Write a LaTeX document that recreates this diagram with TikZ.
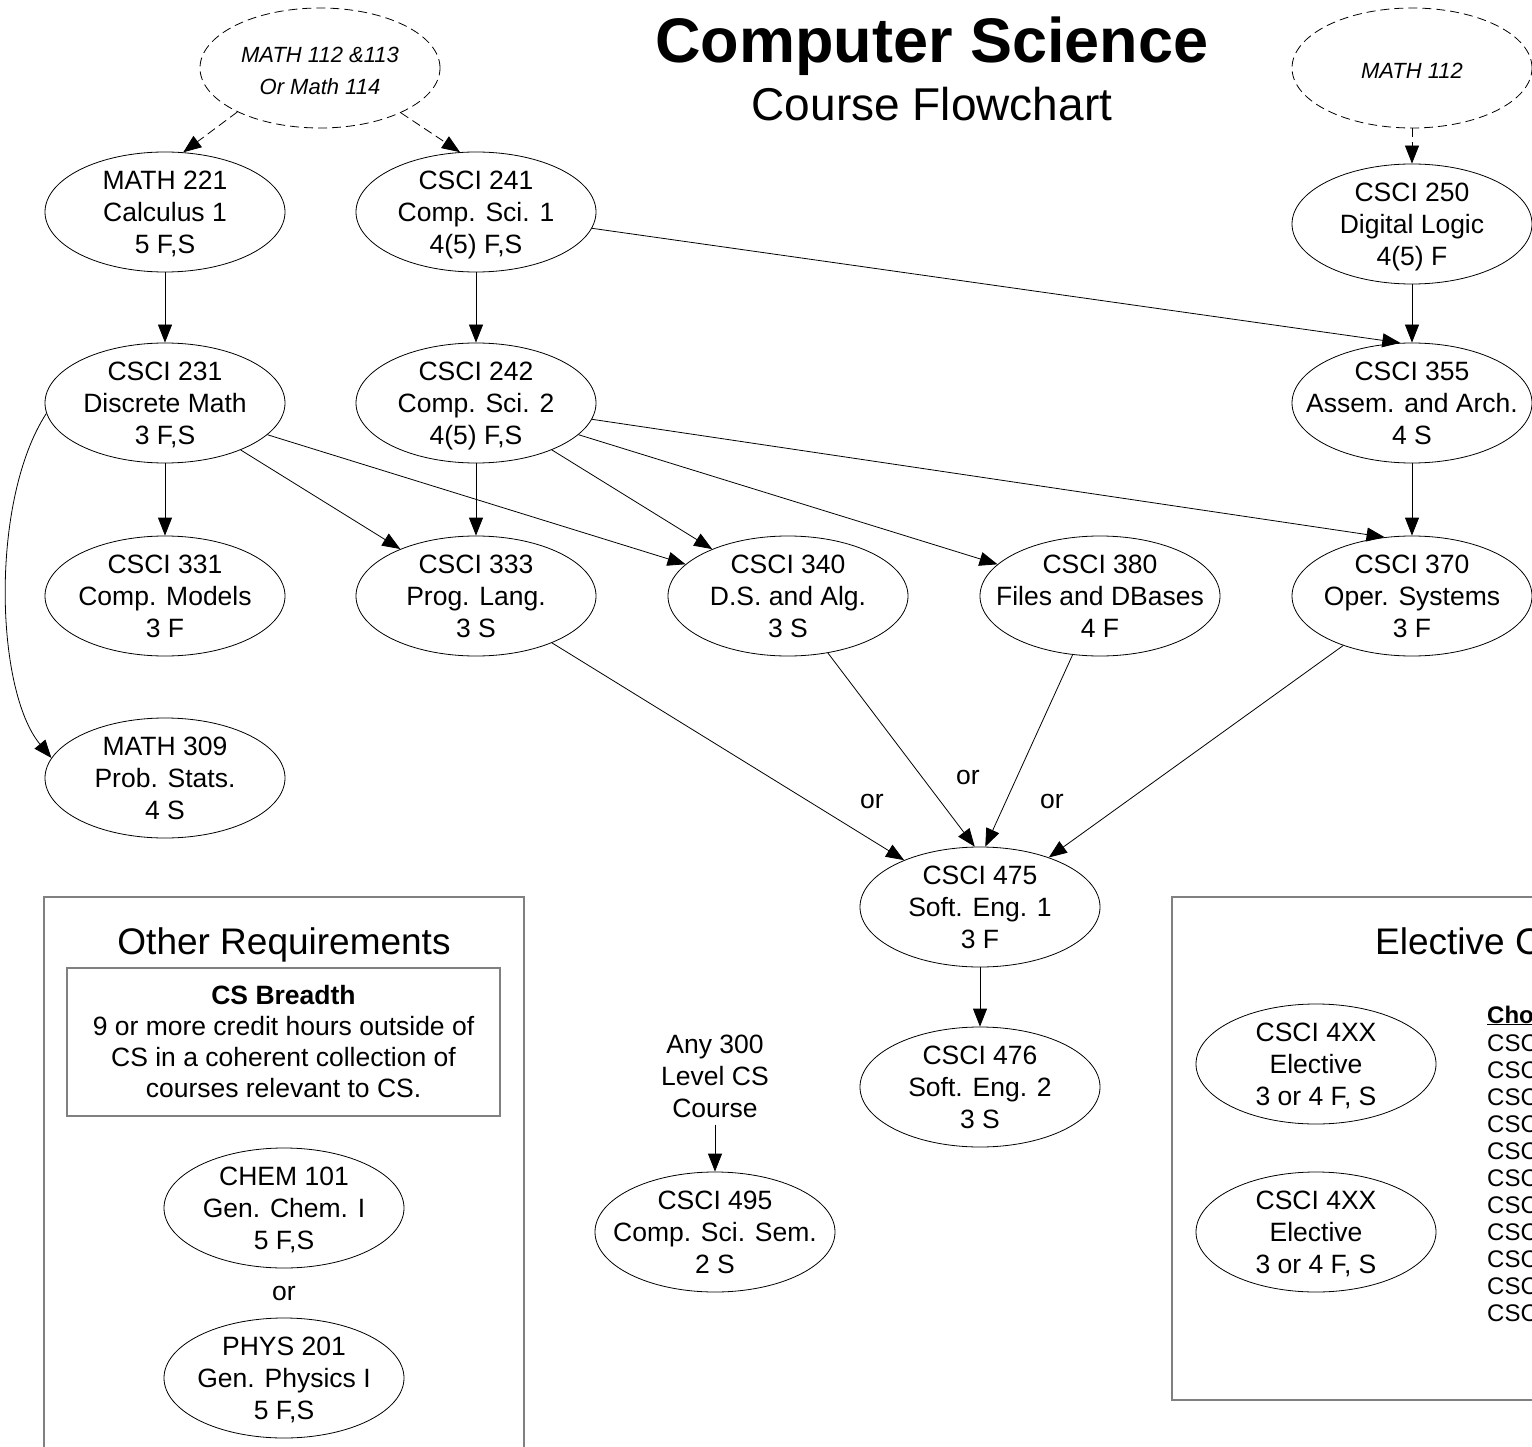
\documentclass[tikz,border=0pt]{standalone}
\usepackage{fontspec}
\setmainfont{Liberation Sans}
\usetikzlibrary{arrows.meta,shapes.geometric}

\newcommand{\tl}[1]{\makebox[0pt]{\raisebox{-9.5pt}[0pt][0pt]{\begin{tabular}{@{}c@{}}#1\end{tabular}}}}

\tikzset{
  x=1pt, y=-1pt,
  course/.style={ellipse, draw, line width=0.8pt, minimum width=240pt, minimum height=120pt,
    inner sep=0pt, font=\fontsize{26.5}{32}\selectfont},
  prereq/.style={course, dash pattern=on 9pt off 5pt, font=\fontsize{22}{32}\selectfont\itshape},
  arr/.style={-{Triangle[length=18pt,width=14pt]}, line width=0.8pt},
  darr/.style={arr, dash pattern=on 9pt off 5pt},
  lbl/.style={font=\fontsize{26.5}{32}\selectfont, inner sep=0pt},
  frame/.style={draw=gray, line width=1.5pt},
  heading/.style={font=\fontsize{37}{40}\selectfont, inner sep=0pt, anchor=base},
  listtxt/.style={font=\fontsize{24}{27}\selectfont, inner sep=0pt, anchor=base west},
}

\begin{document}
\begin{tikzpicture}
\useasboundingbox (0,0) rectangle (1532,1447);
\clip (0,0) rectangle (1532,1447);
\fill[white] (0,0) rectangle (1532,1447);

% title
\node[font=\fontsize{63}{70}\selectfont\bfseries, inner sep=0pt, anchor=base] (title) at (932,63) {Computer Science};
\node[font=\fontsize{46}{50}\selectfont, inner sep=0pt, anchor=base] (subtitle) at (932,121) {Course Flowchart};

% prerequisites
\node[prereq] (pre1) at (320,68) {\tl{MATH 112 \&113\\Or Math 114}};
\node[prereq] (pre2) at (1412,68) {\tl{MATH 112}};

% courses
\node[course] (m221) at (165,212) {\tl{MATH 221\\Calculus 1\\5 F,S}};
\node[course] (c241) at (476,212) {\tl{CSCI 241\\Comp. Sci. 1\\4(5) F,S}};
\node[course] (c250) at (1412,224) {\tl{CSCI 250\\Digital Logic\\4(5) F}};
\node[course] (c231) at (165,403) {\tl{CSCI 231\\Discrete Math\\3 F,S}};
\node[course] (c242) at (476,403) {\tl{CSCI 242\\Comp. Sci. 2\\4(5) F,S}};
\node[course] (c355) at (1412,403) {\tl{CSCI 355\\Assem. and Arch.\\4 S}};
\node[course] (c331) at (165,596) {\tl{CSCI 331\\Comp. Models\\3 F}};
\node[course] (c333) at (476,596) {\tl{CSCI 333\\Prog. Lang.\\3 S}};
\node[course] (c340) at (788,596) {\tl{CSCI 340\\D.S. and Alg.\\3 S}};
\node[course] (c380) at (1100,596) {\tl{CSCI 380\\Files and DBases\\4 F}};
\node[course] (c370) at (1412,596) {\tl{CSCI 370\\Oper. Systems\\3 F}};
\node[course] (m309) at (165,778) {\tl{MATH 309\\Prob. Stats.\\4 S}};
\node[course] (c475) at (980,907) {\tl{CSCI 475\\Soft. Eng. 1\\3 F}};
\node[course] (c476) at (980,1087) {\tl{CSCI 476\\Soft. Eng. 2\\3 S}};
\node[lbl, align=center] (any) at (715,1076) {Any 300\\Level CS\\Course};
\node[course] (c495) at (715,1232) {\tl{CSCI 495\\Comp. Sci. Sem.\\2 S}};

% "or" labels
\node[lbl] (or1) at (872,801) {or};
\node[lbl] (or2) at (968,777) {or};
\node[lbl] (or3) at (1052,801) {or};

% connectors
\draw[darr] (pre1.208) -- (m221.73);
\draw[darr] (pre1.331) -- (c241.105);
\draw[darr] (pre2) -- (c250);
\draw[arr] (m221) -- (c231);
\draw[arr] (c241) -- (c242);
\draw[arr] (c241.-8) -- (c355.101);
\draw[arr] (c250) -- (c355);
\draw[arr] (c231) -- (c331);
\draw[arr] (c231.185) .. controls (-10,500) and (-5,690) .. (m309.170);
\draw[arr] (c231) -- (c333);
\draw[arr] (c231) -- (c340);
\draw[arr] (c242) -- (c333);
\draw[arr] (c242) -- (c340);
\draw[arr] (c242) -- (c380);
\draw[arr] (c242.-8) -- (c370.115);
\draw[arr] (c355) -- (c370);
\draw[arr] (c333) -- (c475);
\draw[arr] (c340.-55) -- (c475.95);
\draw[arr] (c380.-115) -- (c475.85);
\draw[arr] (c370) -- (c475);
\draw[arr] (c475) -- (c476);
\draw[arr, shorten <=7pt] (any) -- (c495);

% Other Requirements box
\draw[frame] (44,897) rectangle (524,1480);
\node[heading] (otherhead) at (284,954) {Other Requirements};
\node[frame, rectangle, minimum width=433pt, minimum height=148pt, inner sep=0pt,
      font=\fontsize{26.5}{31}\selectfont] (breadth) at (283.5,1042)
  {\tl{\textbf{CS Breadth}\\9 or more credit hours outside of\\CS in a coherent collection of\\courses relevant to CS.}};
\node[course] (chem) at (284,1208) {\tl{CHEM 101\\Gen. Chem. I\\5 F,S}};
\node[lbl] (or4) at (284,1293) {or};
\node[course] (phys) at (284,1378) {\tl{PHYS 201\\Gen. Physics I\\5 F,S}};

% Elective box
\draw[frame] (1172,897) rectangle (1560,1400);
\node[heading, anchor=base west] (elechead) at (1375,954) {Elective Courses};
\node[course] (e1) at (1316,1064) {\tl{CSCI 4XX\\Elective\\3 or 4 F, S}};
\node[course] (e2) at (1316,1232) {\tl{CSCI 4XX\\Elective\\3 or 4 F, S}};
\node[listtxt, font=\fontsize{24}{27}\selectfont\bfseries] (cho) at (1487,1023) {\underline{Choose}};
\foreach \k in {0,...,10} {
  \node[listtxt] (csc\k) at (1487,{1051+27*\k}) {CSCI};
}
\end{tikzpicture}
\end{document}
